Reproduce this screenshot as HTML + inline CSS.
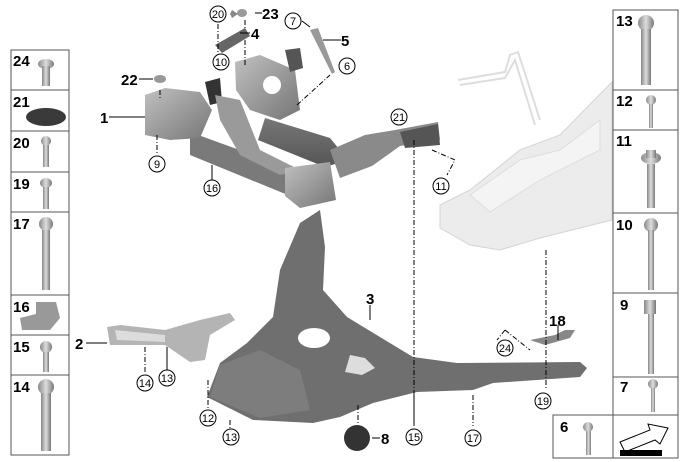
<!DOCTYPE html>
<html><head><meta charset="utf-8"><style>
html,body{margin:0;padding:0;background:#fff;width:680px;height:462px;overflow:hidden}
svg{display:block}
text{font-family:"Liberation Sans",Arial,sans-serif;font-weight:bold;fill:#000}
.c{font-size:11px;font-weight:normal}
.n{font-size:15px}
.b{font-size:15px}
</style></head><body>
<svg width="680" height="462" viewBox="0 0 680 462" xmlns="http://www.w3.org/2000/svg">
<defs>
<linearGradient id="g1" x1="0" y1="0" x2="1" y2="1"><stop offset="0" stop-color="#c0c0c0"/><stop offset="1" stop-color="#767676"/></linearGradient>
<linearGradient id="g2" x1="0" y1="0" x2="0" y2="1"><stop offset="0" stop-color="#777"/><stop offset="1" stop-color="#555"/></linearGradient>
<linearGradient id="bl" x1="0" y1="0" x2="1" y2="0"><stop offset="0" stop-color="#888"/><stop offset=".5" stop-color="#ddd"/><stop offset="1" stop-color="#777"/></linearGradient>
</defs>

<!-- battery (light) -->
<polygon points="440,205 470,190 520,150 560,135 612,82 612,220 540,238 500,250 470,245 440,228" fill="#ececec" stroke="#d4d4d4"/>
<polygon points="470,195 520,160 560,150 600,120 600,150 540,180 490,212" fill="#f4f4f4" stroke="#ddd"/>
<path d="M458,80 L505,72 L510,55 L518,52 L540,120 M460,85 L505,78 L515,60 L535,125" stroke="#ddd" stroke-width="2" fill="none"/>

<!-- subframe -->
<polygon points="235,62 260,55 295,70 300,110 280,120 250,110 236,90" fill="url(#g1)"/>
<circle cx="272" cy="85" r="9" fill="#fff"/>
<polygon points="285,50 300,48 303,68 290,72" fill="#555"/>
<polygon points="265,118 330,138 348,160 325,167 258,140" fill="url(#g2)"/>
<polygon points="190,132 300,172 300,200 190,155" fill="#7a7a7a"/>
<polygon points="205,82 220,78 222,102 210,105" fill="#333"/>
<polygon points="215,95 240,100 260,150 300,170 280,175 240,155 220,120" fill="#9a9a9a"/>
<polygon points="145,95 165,88 200,92 212,110 200,138 170,140 145,135" fill="url(#g1)"/>
<polygon points="285,168 330,162 336,200 300,208 285,196" fill="url(#g1)"/>
<polygon points="330,150 365,135 395,130 438,122 440,140 400,146 372,166 340,178" fill="#8a8a8a"/>
<polygon points="400,132 438,124 440,145 405,148" fill="#555"/>

<!-- plate -->
<polygon points="320,210 325,247 323,290 347,317 413,357 457,363 580,362 587,368 580,377 493,383 473,390 417,392 373,403 340,417 313,423 253,420 207,397 220,363 247,343 273,317 280,270 300,223" fill="#6f6f6f"/>
<polygon points="220,365 260,350 300,370 310,410 260,418 210,397" fill="#7d7d7d"/>
<ellipse cx="314" cy="338" rx="16" ry="10" fill="#fff"/>
<polygon points="350,355 365,358 375,368 362,375 345,372 348,362" fill="#ddd"/>
<!-- arm 2 -->
<polygon points="107,327 120,325 165,330 200,320 230,313 235,320 210,335 205,360 190,362 165,345 110,345" fill="#b4b4b4"/>
<polygon points="115,330 165,335 165,342 117,340" fill="#dcdcdc"/>

<!-- small parts -->
<polygon points="230,14 232,10 238,14 232,18" fill="#888"/>
<polygon points="215,45 245,28 250,36 222,53" fill="#666"/>
<polygon points="310,30 318,28 335,72 332,74" fill="#999"/>
<ellipse cx="160" cy="79" rx="6" ry="4" fill="#999"/>
<ellipse cx="242" cy="13" rx="5" ry="4" fill="#999"/>
<circle cx="357" cy="438" r="13" fill="#333"/>
<polygon points="530,340 555,335 565,330 575,330 570,338 545,345" fill="#888"/>

<!-- dashed leaders -->
<g stroke="#000" stroke-width="1" fill="none" stroke-dasharray="5,2,1,2">
<path d="M218,24 V55"/><path d="M245,20 V30"/><path d="M245,40 V65"/>
<path d="M297,105 L330,75"/><path d="M160,90 V100"/>
<path d="M157,135 V155"/><path d="M414,140 V425"/>
<path d="M432,150 L455,160 L447,175"/><path d="M546,250 V390"/>
<path d="M145,347 V372"/><path d="M208,380 V408"/><path d="M230,420 V428"/>
<path d="M473,395 V426"/><path d="M414,395 V426"/><path d="M358,405 V425"/>
<path d="M505,330 L530,350 M505,330 L497,340"/>
</g>
<g stroke="#000" stroke-width="1">
<path d="M109,117 H145"/><path d="M255,13 H262"/><path d="M240,33 H250"/>
<path d="M302,21 L310,27"/><path d="M323,40 H341"/><path d="M139,79 H153"/>
<path d="M212,180 V165"/><path d="M167,370 V347"/><path d="M370,305 V320"/>
<path d="M86,343 H107"/><path d="M558,325 V340"/><path d="M372,438 H380"/>
</g>

<!-- circled labels -->
<g fill="#fff" stroke="#000" stroke-width="1">
<circle cx="218" cy="14" r="8"/><circle cx="221" cy="62" r="8"/><circle cx="347" cy="66" r="8"/>
<circle cx="399" cy="117" r="8"/><circle cx="157" cy="164" r="8"/><circle cx="212" cy="188" r="8"/>
<circle cx="441" cy="186" r="8"/><circle cx="145" cy="383" r="8"/><circle cx="167" cy="378" r="8"/>
<circle cx="208" cy="418" r="8"/><circle cx="231" cy="437" r="8"/><circle cx="414" cy="437" r="8"/>
<circle cx="473" cy="438" r="8"/><circle cx="543" cy="401" r="8"/><circle cx="505" cy="348" r="8"/>
</g>
<g class="c" text-anchor="middle">
<text class="c" x="218" y="18">20</text><text class="c" x="221" y="66">10</text><text class="c" x="347" y="70">6</text>
<text class="c" x="399" y="121">21</text><text class="c" x="157" y="168">9</text><text class="c" x="212" y="192">16</text>
<text class="c" x="441" y="190">11</text><text class="c" x="145" y="387">14</text><text class="c" x="167" y="382">13</text>
<text class="c" x="208" y="422">12</text><text class="c" x="231" y="441">13</text><text class="c" x="414" y="441">15</text>
<text class="c" x="473" y="442">17</text><text class="c" x="543" y="405">19</text><text class="c" x="505" y="352">24</text>
</g>
<g class="n">
<text class="n" x="262" y="19">23</text><text class="n" x="251" y="39">4</text><text class="n" x="341" y="46">5</text>
<text class="n" x="121" y="85">22</text><text class="n" x="100" y="123">1</text><text class="n" x="366" y="304">3</text>
<text class="n" x="75" y="349">2</text><text class="n" x="549" y="326">18</text><text class="n" x="381" y="444">8</text>
</g>
<circle cx="293" cy="21" r="8" fill="#fff" stroke="#000"/><text class="c" x="293" y="25" text-anchor="middle">7</text>

<!-- column boxes -->
<g fill="none" stroke="#555" stroke-width="1">
<rect x="11" y="50" width="58" height="405"/>
<path d="M11,90 H69 M11,131 H69 M11,172 H69 M11,212 H69 M11,295 H69 M11,335 H69 M11,375 H69"/>
<rect x="613" y="10" width="65" height="448"/>
<path d="M613,90 H678 M613,130 H678 M613,213 H678 M613,293 H678 M613,377 H678 M613,415 H678"/>
<rect x="553" y="415" width="60" height="43"/>
</g>
<!-- left column parts -->
<g fill="url(#bl)">
<ellipse cx="46" cy="64" rx="8" ry="5"/><rect x="42" y="66" width="8" height="20"/>
<ellipse cx="46" cy="117" rx="20" ry="9" fill="#3a3a3a"/>
<circle cx="46" cy="141" r="5"/><rect x="43" y="145" width="6" height="22"/>
<ellipse cx="46" cy="183" rx="6" ry="5"/><rect x="43" y="187" width="6" height="22"/>
<circle cx="46" cy="224" r="7"/><rect x="42" y="230" width="8" height="60"/>
<polygon points="36,302 56,302 60,318 50,330 22,330 20,318 36,314" fill="#999"/>
<circle cx="46" cy="347" r="6"/><rect x="43" y="352" width="6" height="20"/>
<circle cx="46" cy="387" r="8"/><rect x="41" y="393" width="10" height="58"/>
<!-- right parts -->
<circle cx="646" cy="23" r="8"/><rect x="641" y="29" width="10" height="56"/>
<circle cx="651" cy="100" r="5"/><rect x="649" y="104" width="4" height="24"/>
<ellipse cx="651" cy="158" rx="10" ry="6"/><rect x="646" y="150" width="10" height="8"/><rect x="647" y="164" width="8" height="44"/>
<circle cx="651" cy="225" r="7"/><rect x="648" y="230" width="6" height="60"/>
<rect x="644" y="300" width="12" height="14"/><rect x="648" y="314" width="6" height="60"/>
<circle cx="653" cy="384" r="5"/><rect x="651" y="388" width="4" height="24"/>
<circle cx="588" cy="427" r="5"/><rect x="586" y="431" width="5" height="24"/>
</g>
<g class="b">
<text x="13" y="66">24</text><text x="13" y="107">21</text><text x="13" y="148">20</text><text x="13" y="189">19</text>
<text x="13" y="229">17</text><text x="13" y="312">16</text><text x="13" y="352">15</text><text x="13" y="392">14</text>
<text x="616" y="26">13</text><text x="616" y="106">12</text><text x="616" y="146">11</text><text x="616" y="230">10</text>
<text x="620" y="310">9</text><text x="620" y="392">7</text><text x="560" y="432">6</text>
</g>
<!-- arrow icon -->
<polygon points="620,442 650,430 648,424 668,428 660,444 655,440 625,452" fill="#fff" stroke="#000"/>
<rect x="620" y="450" width="42" height="6" fill="#000"/>
</svg>
</body></html>
